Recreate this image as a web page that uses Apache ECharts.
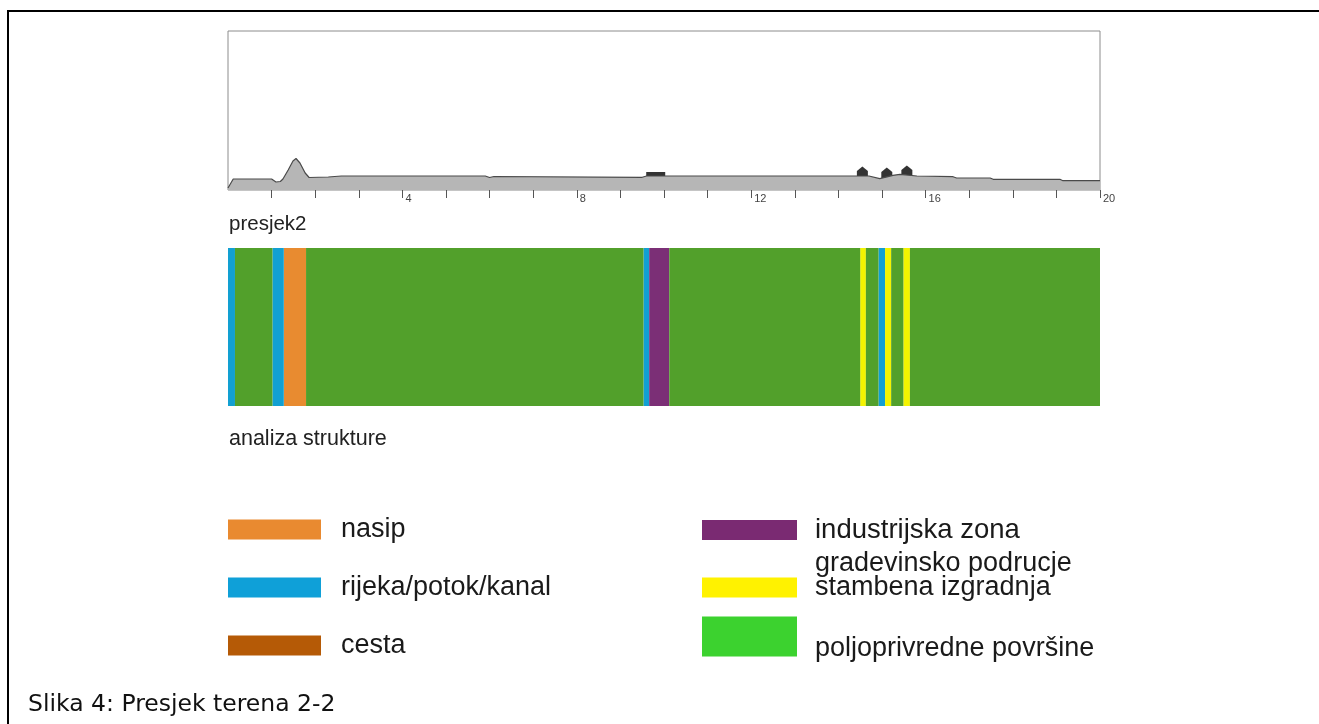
<!DOCTYPE html>
<html>
<head>
<meta charset="utf-8">
<script src="https://cdn.jsdelivr.net/npm/echarts@6/dist/echarts.min.js"></script>
<style>
html,body{margin:0;padding:0;background:#fff;}
#chart{width:1319px;height:724px;}
</style>
</head>
<body>
<div id="chart"></div>
<script>
// ---- Terrain profile (distance along section, relative height) ----
const profileX = [0, 0.12, 1.0, 1.1, 1.2, 1.26, 1.38, 1.49, 1.56, 1.65, 1.77, 1.86, 2.3, 2.6, 5.9, 6.0, 6.1, 9.5, 9.6, 14.7, 14.95, 15.25, 15.41, 15.8, 16.63, 16.71, 17.48, 17.55, 19.08, 19.15, 20];
const profileH = [2, 11, 11, 8, 8.5, 11, 20, 29, 31.5, 27, 17, 12.5, 13, 14, 14, 12.5, 13.5, 12.7, 14, 14, 11.3, 14.7, 15.7, 14, 13.3, 12, 12, 10.7, 10.7, 9.3, 9.3];

// buildings on the profile
const houseX = [14.55, 15.11, 15.57];
const houseH = [18, 17, 19];
const blockX = [9.81];
const blockH = [16];

// axis ticks / labels
const tickValues = [1,2,3,4,5,6,7,8,9,10,11,12,13,14,15,16,17,18,19,20];
const labelValues = [4, 8, 12, 16, 20];

// ---- Structure analysis bands ----
const categories = ['nasip', 'rijeka/potok/kanal', 'cesta', 'industrijska zona', 'gradevinsko podrucje\nstambena izgradnja', 'poljoprivredne površine'];
const segStart = [0, 0.16, 1.02, 1.28, 1.79, 9.53, 9.66, 10.12, 14.5, 14.63, 14.92, 15.07, 15.21, 15.49, 15.64];
const segEnd   = [0.16, 1.02, 1.28, 1.79, 9.53, 9.66, 10.12, 14.5, 14.63, 14.92, 15.07, 15.21, 15.49, 15.64, 20];
const segType  = [1, 5, 1, 0, 5, 1, 3, 5, 4, 5, 1, 4, 5, 4, 5];

const bandColors   = ['#e88b30', '#12a0d2', '#b55a06', '#7b2f76', '#f4f400', '#52a02b'];
const legendColors = ['#e98a30', '#0fa0d8', '#b55a06', '#7a2a72', '#fff200', '#3cd22f'];

function renderBand(params, api) {
  const a = api.coord([api.value(0), 1]);
  const b = api.coord([api.value(1), 0]);
  return {
    type: 'rect',
    shape: { x: a[0], y: a[1], width: b[0] - a[0], height: b[1] - a[1] },
    style: { fill: api.visual('color') }
  };
}

const bandSeries = categories.map((name, ci) => ({
  type: 'custom',
  name: name,
  xAxisIndex: 1,
  yAxisIndex: 1,
  color: bandColors[ci],
  renderItem: renderBand,
  encode: { x: [0, 1] },
  data: segStart.map((s, i) => [s, segEnd[i], segType[i]]).filter(d => d[2] === ci),
  silent: true
}));

const legendText = { fontFamily: 'Liberation Sans, Arial, sans-serif', color: '#1a1a1a' };

const option = {
  animation: false,
  backgroundColor: '#ffffff',
  title: [
    { text: 'presjek2', left: 224, top: 209, textStyle: { fontFamily: 'Liberation Sans, Arial', fontSize: 20.5, fontWeight: 'normal', color: '#222' } },
    { text: 'analiza strukture', left: 224, top: 423, textStyle: { fontFamily: 'Liberation Sans, Arial', fontSize: 21.5, fontWeight: 'normal', color: '#222' } },
    { text: 'Slika 4: Presjek terena 2-2', left: 23, top: 688, textStyle: { fontFamily: 'DejaVu Sans', fontSize: 23.5, fontWeight: 'normal', color: '#111' } }
  ],
  graphic: [
    { type: 'polyline', shape: { points: [[8, 724], [8, 11], [1319, 11]] }, style: { stroke: '#000', lineWidth: 2, fill: null }, silent: true }
  ],
  grid: [
    { left: 228, top: 31, width: 872, height: 159, show: true, borderColor: '#8c8c8c', borderWidth: 1, backgroundColor: '#fff' },
    { left: 228, top: 248, width: 872, height: 158, show: false }
  ],
  xAxis: [
    {
      type: 'value', gridIndex: 0, min: 0, max: 20, interval: 1, offset: 3,
      axisLine: { show: false },
      axisTick: { show: true, length: 8, customValues: tickValues, lineStyle: { color: '#555', width: 1 } },
      axisLabel: { show: true, customValues: labelValues, margin: 0, align: 'left', padding: [0, 0, 0, 3], fontSize: 11, fontFamily: 'Liberation Sans, Arial', color: '#444', lineHeight: 12 },
      splitLine: { show: false }
    },
    { type: 'value', gridIndex: 1, min: 0, max: 20, show: false, splitLine: { show: false } }
  ],
  yAxis: [
    { type: 'value', gridIndex: 0, min: 0, max: 159, show: false, splitLine: { show: false } },
    { type: 'value', gridIndex: 1, min: 0, max: 1, show: false, splitLine: { show: false } }
  ],
  legend: [
    {
      left: 228, top: 516, orient: 'vertical', padding: 0, itemGap: 31, itemWidth: 93, itemHeight: 20,
      selectedMode: false, icon: 'rect',
      textStyle: Object.assign({ fontSize: 27, lineHeight: 20, padding: [0, 0, 0, 15] }, legendText),
      data: [0, 1, 2].map(i => ({ name: categories[i], itemStyle: { color: legendColors[i] } }))
    },
    {
      left: 702, top: 516, orient: 'vertical', padding: 0, itemWidth: 95, itemHeight: 20,
      selectedMode: false, icon: 'rect',
      textStyle: Object.assign({ fontSize: 27.5, lineHeight: 20, padding: [0, 0, 0, 13] }, legendText),
      data: [{ name: categories[3], itemStyle: { color: legendColors[3] } }]
    },
    {
      left: 702, top: 550, orient: 'vertical', padding: 0, itemWidth: 95, itemHeight: 20,
      selectedMode: false, icon: 'rect',
      formatter: name => name + '\n',
      textStyle: Object.assign({ fontSize: 27, lineHeight: 24, padding: [0, 0, 0, 13] }, legendText),
      data: [{ name: categories[4], itemStyle: { color: legendColors[4] } }]
    },
    {
      left: 702, top: 611, orient: 'vertical', padding: 0, itemWidth: 95, itemHeight: 40,
      selectedMode: false, icon: 'rect',
      formatter: name => '\n' + name,
      textStyle: Object.assign({ fontSize: 27, lineHeight: 24, padding: [0, 0, 0, 13] }, legendText),
      data: [{ name: categories[5], itemStyle: { color: legendColors[5] } }]
    }
  ],
  series: [
    {
      type: 'line', name: 'teren', xAxisIndex: 0, yAxisIndex: 0,
      data: profileX.map((x, i) => [x, profileH[i]]),
      showSymbol: false, symbol: 'none', smooth: false,
      lineStyle: { color: '#4a4a4a', width: 1.2 },
      areaStyle: { color: '#b6b6b6', opacity: 1 },
      silent: true
    },
    {
      type: 'scatter', name: 'objekti', xAxisIndex: 0, yAxisIndex: 0,
      data: houseX.map((x, i) => [x, houseH[i]]),
      symbol: 'path://M5,0 L10,4 L10,10 L0,10 L0,4 Z', symbolSize: 11,
      itemStyle: { color: '#000' }, silent: true
    },
    {
      type: 'scatter', name: 'blok', xAxisIndex: 0, yAxisIndex: 0,
      data: blockX.map((x, i) => [x, blockH[i]]),
      symbol: 'rect', symbolSize: [19, 4],
      itemStyle: { color: '#000' }, silent: true
    }
  ].concat(bandSeries)
};

const chart = echarts.init(document.getElementById('chart'), null, { renderer: 'canvas' });
chart.setOption(option);
</script>
</body>
</html>
